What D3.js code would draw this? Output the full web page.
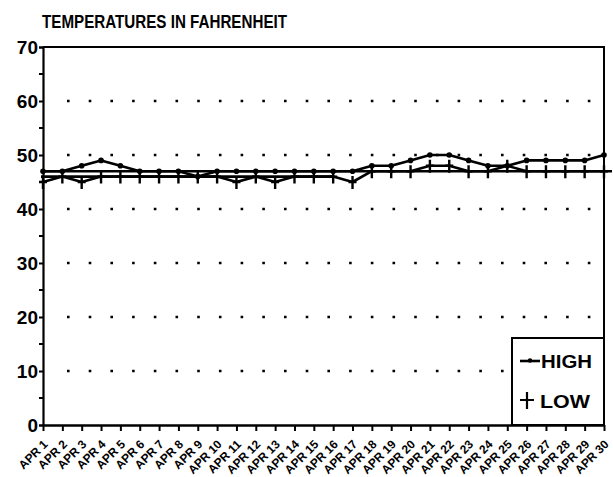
<!DOCTYPE html>
<html>
<head>
<meta charset="utf-8">
<script src="https://cdn.jsdelivr.net/npm/d3@7"></script>
<style>
  body { margin: 0; background: #fff; }
  svg { display: block; }
  text { font-family: "Liberation Sans", Arial, sans-serif; font-weight: bold; fill: #000; }
</style>
</head>
<body>
<div id="chart"></div>
<script>
// days of the month (x categories)
var dayLabels = ["APR 1", "APR 2", "APR 3", "APR 4", "APR 5", "APR 6", "APR 7", "APR 8", "APR 9", "APR 10",
    "APR 11", "APR 12", "APR 13", "APR 14", "APR 15", "APR 16", "APR 17", "APR 18", "APR 19", "APR 20",
    "APR 21", "APR 22", "APR 23", "APR 24", "APR 25", "APR 26", "APR 27", "APR 28", "APR 29", "APR 30"];

// daily highs and lows
var highTemps = [47, 47, 48, 49, 48, 47, 47, 47, 46, 47,
    47, 47, 47, 47, 47, 47, 47, 48, 48, 49,
    50, 50, 49, 48, 48, 49, 49, 49, 49, 50];
var lowTemps = [45, 46, 45, 46, 46, 46, 46, 46, 46, 46,
    45, 46, 45, 46, 46, 46, 45, 47, 47, 47,
    48, 48, 47, 47, 48, 47, 47, 47, 47, 47];

// the two flat lines drawn through the data
var flatValues = [47, 46];
var flatEnds = ["APR 30", "APR 16"];

var yTicks = [0, 10, 20, 30, 40, 50, 60, 70];
var yMinorTicks = [5, 15, 25, 35, 45, 55, 65];
var gridValues = [10, 20, 30, 40, 50, 60];

var width = 613, height = 477;
var plotLeft = 43, plotRight = 604, plotTop = 47, plotBottom = 425;

var svg = d3.select('#chart').append('svg')
    .attr('width', width)
    .attr('height', height);

var x = d3.scalePoint().domain(dayLabels).range([plotLeft, plotRight]);
var y = d3.scaleLinear().domain([0, 70]).range([plotBottom, plotTop]);

// title
svg.append('text')
    .attr('x', 42)
    .attr('y', 28)
    .attr('font-size', 18)
    .attr('textLength', 245)
    .attr('lengthAdjust', 'spacingAndGlyphs')
    .text('TEMPERATURES IN FAHRENHEIT');

// dotted grid
svg.append('g').selectAll('line').data(gridValues)
    .enter().append('line')
    .attr('x1', plotLeft + 24)
    .attr('x2', plotRight - 6)
    .attr('y1', function(d) { return y(d); })
    .attr('y2', function(d) { return y(d); })
    .attr('stroke', '#000')
    .attr('stroke-width', 2.6)
    .attr('stroke-dasharray', '2.6 19.1');

// frame: top and right
svg.append('path')
    .attr('d', 'M' + plotLeft + ',' + plotTop + 'H' + plotRight + 'V' + plotBottom)
    .attr('fill', 'none')
    .attr('stroke', '#000')
    .attr('stroke-width', 2);

// y axis
var yAxis = d3.axisLeft(y).tickValues(yTicks).tickSize(4).tickFormat(d3.format('d'));
var gy = svg.append('g').attr('transform', 'translate(' + plotLeft + ',0)').call(yAxis);
gy.select('.domain').attr('stroke-width', 2.2);
gy.selectAll('.tick line').attr('stroke-width', 2);
gy.selectAll('.tick text')
    .attr('x', -5)
    .attr('dy', '0.36em')
    .attr('font-size', 19)
    .attr('font-family', '"Liberation Sans", Arial, sans-serif')
    .attr('font-weight', 'bold')
    .attr('fill', '#000');
gy.append('g').selectAll('line').data(yMinorTicks)
    .enter().append('line')
    .attr('x1', -4).attr('x2', 0)
    .attr('y1', function(d) { return y(d); })
    .attr('y2', function(d) { return y(d); })
    .attr('stroke', '#000')
    .attr('stroke-width', 2);

// x axis
var xAxis = d3.axisBottom(x).tickSize(6).tickSizeOuter(0);
var gx = svg.append('g').attr('transform', 'translate(0,' + plotBottom + ')').call(xAxis);
gx.select('.domain').attr('stroke-width', 2.4);
gx.selectAll('.tick line').attr('stroke-width', 2);
gx.selectAll('.tick text')
    .attr('font-size', 12)
    .attr('font-family', '"Liberation Sans", Arial, sans-serif')
    .attr('font-weight', 'bold')
    .attr('fill', '#000')
    .attr('text-anchor', 'end')
    .attr('dy', 0)
    .attr('y', 0)
    .attr('transform', 'translate(5,20) rotate(-45)');

// flat lines
svg.append('g').selectAll('line').data(flatValues)
    .enter().append('line')
    .attr('x1', plotLeft - 2)
    .attr('x2', function(d, i) { return x(flatEnds[i]) + (i === 0 ? 8 : 0); })
    .attr('y1', function(d) { return y(d); })
    .attr('y2', function(d) { return y(d); })
    .attr('stroke', '#000')
    .attr('stroke-width', 2.6);

var line = d3.line()
    .x(function(d, i) { return x(dayLabels[i]); })
    .y(function(d) { return y(d); });

// high series
svg.append('path')
    .datum(highTemps)
    .attr('d', line)
    .attr('fill', 'none')
    .attr('stroke', '#000')
    .attr('stroke-width', 2.6)
    .attr('stroke-linejoin', 'round');
svg.append('g').selectAll('circle').data(highTemps)
    .enter().append('circle')
    .attr('cx', function(d, i) { return x(dayLabels[i]); })
    .attr('cy', function(d) { return y(d); })
    .attr('r', 2.8)
    .attr('fill', '#000');

// low series
svg.append('path')
    .datum(lowTemps)
    .attr('d', line)
    .attr('fill', 'none')
    .attr('stroke', '#000')
    .attr('stroke-width', 2.6)
    .attr('stroke-linejoin', 'round');
svg.append('g').selectAll('path').data(lowTemps)
    .enter().append('path')
    .attr('d', function(d, i) {
        var cx = x(dayLabels[i]), cy = y(d);
        return 'M' + cx + ',' + (cy - 6) + 'V' + (cy + 7) + 'M' + (cx - 4) + ',' + cy + 'H' + (cx + 4);
    })
    .attr('stroke', '#000')
    .attr('stroke-width', 2.4)
    .attr('fill', 'none');

// legend
var legend = svg.append('g');
legend.append('rect')
    .attr('x', 512)
    .attr('y', 338)
    .attr('width', plotRight - 512)
    .attr('height', plotBottom - 338)
    .attr('fill', '#fff')
    .attr('stroke', '#000')
    .attr('stroke-width', 2);
legend.append('line')
    .attr('x1', 520).attr('x2', 540)
    .attr('y1', 361).attr('y2', 361)
    .attr('stroke', '#000')
    .attr('stroke-width', 2.6);
legend.append('circle')
    .attr('cx', 530).attr('cy', 360.5).attr('r', 2.2)
    .attr('fill', '#000');
legend.append('text')
    .attr('x', 541).attr('y', 368)
    .attr('font-size', 18)
    .attr('textLength', 51)
    .attr('lengthAdjust', 'spacingAndGlyphs')
    .text('HIGH');
legend.append('path')
    .attr('d', 'M527,392V409M520,400H534')
    .attr('stroke', '#000')
    .attr('stroke-width', 2.2);
legend.append('text')
    .attr('x', 540).attr('y', 408)
    .attr('font-size', 18)
    .attr('textLength', 50)
    .attr('lengthAdjust', 'spacingAndGlyphs')
    .text('LOW');
</script>
</body>
</html>
